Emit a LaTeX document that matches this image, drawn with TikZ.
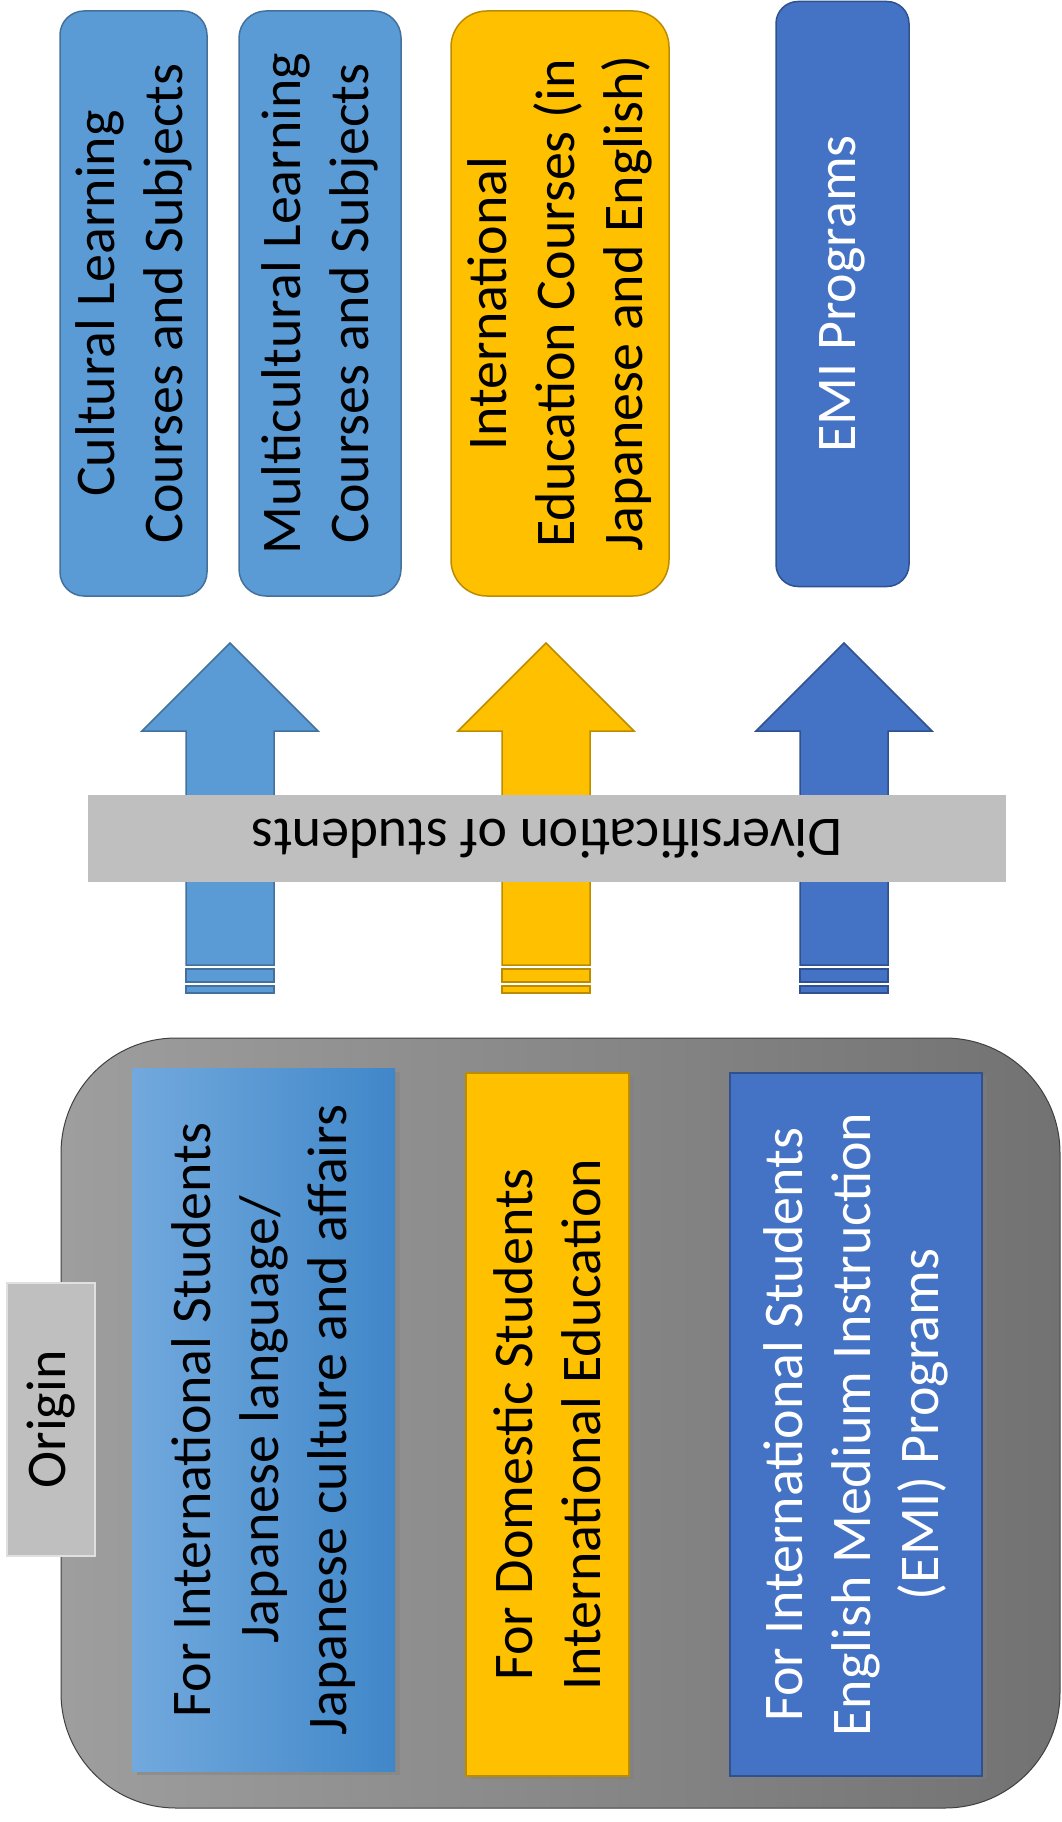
\documentclass[tikz,border=0pt]{standalone}
\usepackage{fontspec}
\setmainfont{Carlito}
\usepackage{tikz}
\usetikzlibrary{shadows}
\definecolor{lblue}{HTML}{5B9BD5}
\definecolor{lblued}{HTML}{41719C}
\definecolor{gold}{HTML}{FFC000}
\definecolor{goldd}{HTML}{BC8C00}
\definecolor{dblue}{HTML}{4472C4}
\definecolor{dblued}{HTML}{2F528F}
\definecolor{bandgray}{HTML}{BFBFBF}
\definecolor{panell}{HTML}{9E9E9E}
\definecolor{paneld}{HTML}{727272}
\definecolor{gradl}{HTML}{72A9DD}
\definecolor{gradd}{HTML}{4087C9}

\begin{document}
\begin{tikzpicture}[x=1pt, y=-1pt,
  every node/.style={font=\fontsize{56}{68}\selectfont},
  card/.style={rotate=90, align=center, inner sep=0pt, line width=1.5pt, anchor=center},
  topbox/.style={card, draw, minimum width=585pt, rounded corners=#1},
  inbox/.style={card, minimum width=703pt,
                drop shadow={shadow xshift=5pt, shadow yshift=-3pt, opacity=.45}},
  arrowbody/.style={line width=1.5pt, line join=miter},
  strip/.style={line width=1.5pt}]

\useasboundingbox (0,0) rectangle (1062,1822);

% top row: where it ends
\node[topbox=24pt, fill=lblue, draw=lblued, minimum height=147pt] (cult) at (133.5,303.5)
  {Cultural Learning\\Courses and Subjects};
\node[topbox=27pt, fill=lblue, draw=lblued, minimum height=162pt] (multi) at (320,303.5)
  {Multicultural Learning\\Courses and Subjects};
\node[topbox=36pt, fill=gold, draw=goldd, minimum height=218pt] (intl) at (560,303.5)
  {International\\Education Courses (in\\Japanese and English)};
\node[topbox=22pt, fill=dblue, draw=dblued, minimum height=133pt, text=white] (emi) at (842.5,294)
  {EMI Programs};

% arrows
\foreach \cx/\fc/\dc in {230/lblue/lblued, 546/gold/goldd, 844/dblue/dblued}{
  \draw[arrowbody, fill=\fc, draw=\dc] (\cx-44,965) -- (\cx-44,731) -- (\cx-88,731)
    -- (\cx,643) -- (\cx+88,731) -- (\cx+44,731) -- (\cx+44,965) -- cycle;
  \draw[strip, fill=\fc, draw=\dc] (\cx-44,969) rectangle (\cx+44,982);
  \draw[strip, fill=\fc, draw=\dc] (\cx-44,986) rectangle (\cx+44,993);
}

\node[fill=bandgray, minimum width=918pt, minimum height=87pt, inner sep=0pt, rotate=180] (div)
  at (547,838.5) {Diversification of students};

% origin panel
\node[draw=black!75, line width=1pt, rounded corners=115pt, left color=panell, right color=paneld,
      minimum width=999pt, minimum height=770pt, inner sep=0pt] (panel) at (560.5,1423) {};
\node[card, fill=bandgray, draw=black!12, minimum width=273pt, minimum height=88pt] (origin)
  at (51,1419.5) {Origin};

\node[inbox, left color=gradl, right color=gradd, minimum height=263pt] (forint) at (263.5,1420)
  {For International Students\\Japanese language/\\Japanese culture and affairs};
\node[inbox, fill=gold, draw=goldd, minimum height=163pt] (fordom) at (547.5,1424.5)
  {For Domestic Students\\International Education};
\node[inbox, fill=dblue, draw=dblued, minimum height=252pt, text=white] (foremi) at (856,1424.5)
  {For International Students\\English Medium Instruction\\(EMI) Programs};
\end{tikzpicture}
\end{document}
